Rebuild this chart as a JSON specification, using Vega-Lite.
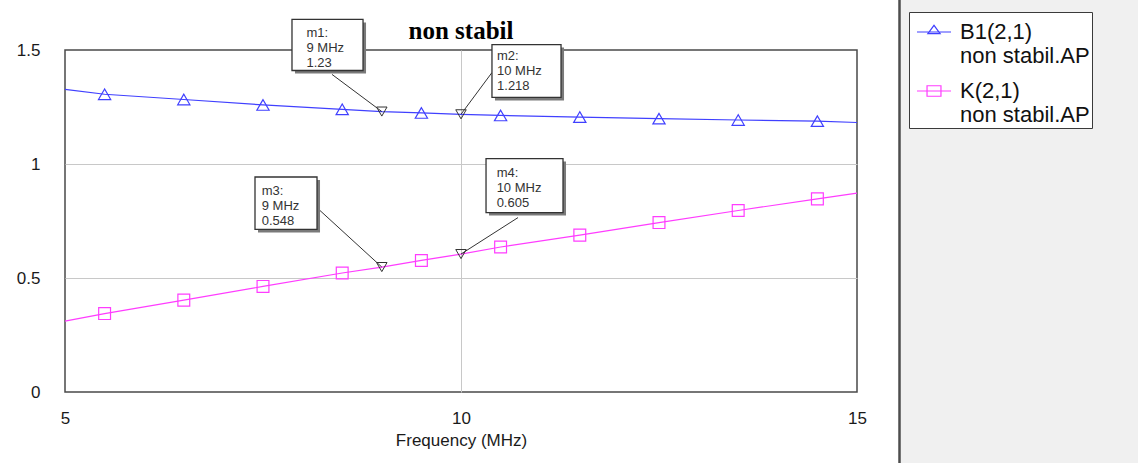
{
  "$schema": "https://vega.github.io/schema/vega-lite/v6.json",
  "width": 792,
  "height": 342,
  "padding": {"left": 65, "top": 50, "right": 281, "bottom": 71},
  "autosize": {"type": "none"},
  "background": "white",
  "view": {"stroke": "#4a4a4a", "strokeWidth": 1.5},
  "config": {"font": "Liberation Sans", "axis": {"labelFont": "Liberation Sans", "titleFont": "Liberation Sans"}},
  "title": {"text": "non stabil", "font": "Liberation Serif", "fontSize": 25, "fontWeight": "bold", "color": "#000000", "frame": "group", "anchor": "middle", "offset": -46},
  "datasets": {
    "curves": [
      {"series": "B1(2,1) non stabil.AP", "freq": 5, "val": 1.327},
      {"series": "B1(2,1) non stabil.AP", "freq": 5.5, "val": 1.306},
      {"series": "B1(2,1) non stabil.AP", "freq": 6.5, "val": 1.283},
      {"series": "B1(2,1) non stabil.AP", "freq": 7.5, "val": 1.259},
      {"series": "B1(2,1) non stabil.AP", "freq": 8.5, "val": 1.240},
      {"series": "B1(2,1) non stabil.AP", "freq": 9, "val": 1.230},
      {"series": "B1(2,1) non stabil.AP", "freq": 9.5, "val": 1.224},
      {"series": "B1(2,1) non stabil.AP", "freq": 10, "val": 1.218},
      {"series": "B1(2,1) non stabil.AP", "freq": 10.5, "val": 1.213},
      {"series": "B1(2,1) non stabil.AP", "freq": 11.5, "val": 1.206},
      {"series": "B1(2,1) non stabil.AP", "freq": 12.5, "val": 1.199},
      {"series": "B1(2,1) non stabil.AP", "freq": 13.5, "val": 1.193},
      {"series": "B1(2,1) non stabil.AP", "freq": 14.5, "val": 1.188},
      {"series": "B1(2,1) non stabil.AP", "freq": 15, "val": 1.182},
      {"series": "K(2,1) non stabil.AP", "freq": 5, "val": 0.311},
      {"series": "K(2,1) non stabil.AP", "freq": 5.5, "val": 0.344},
      {"series": "K(2,1) non stabil.AP", "freq": 6.5, "val": 0.403},
      {"series": "K(2,1) non stabil.AP", "freq": 7.5, "val": 0.463},
      {"series": "K(2,1) non stabil.AP", "freq": 8.5, "val": 0.522},
      {"series": "K(2,1) non stabil.AP", "freq": 9, "val": 0.548},
      {"series": "K(2,1) non stabil.AP", "freq": 9.5, "val": 0.577},
      {"series": "K(2,1) non stabil.AP", "freq": 10, "val": 0.605},
      {"series": "K(2,1) non stabil.AP", "freq": 10.5, "val": 0.636},
      {"series": "K(2,1) non stabil.AP", "freq": 11.5, "val": 0.688},
      {"series": "K(2,1) non stabil.AP", "freq": 12.5, "val": 0.743},
      {"series": "K(2,1) non stabil.AP", "freq": 13.5, "val": 0.796},
      {"series": "K(2,1) non stabil.AP", "freq": 14.5, "val": 0.847},
      {"series": "K(2,1) non stabil.AP", "freq": 15, "val": 0.872}
    ],
    "callouts": [
      {"name": "m1", "freq": 9, "val": 1.23, "bx1": 7.866, "bx2": 8.763, "by1": 1.634, "by2": 1.410, "lx": 8.371, "ly": 1.393, "tx": 8.049, "ty": 1.603},
      {"name": "m2", "freq": 10, "val": 1.218, "bx1": 10.391, "bx2": 11.263, "by1": 1.524, "by2": 1.292, "lx": 10.391, "ly": 1.401, "tx": 10.455, "ty": 1.498},
      {"name": "m3", "freq": 9, "val": 0.548, "bx1": 7.399, "bx2": 8.182, "by1": 0.943, "by2": 0.713, "lx": 8.207, "ly": 0.800, "tx": 7.484, "ty": 0.910},
      {"name": "m4", "freq": 10, "val": 0.605, "bx1": 10.316, "bx2": 11.288, "by1": 1.024, "by2": 0.787, "lx": 10.720, "ly": 0.765, "tx": 10.450, "ty": 0.985}
    ],
    "series": [
      {"series": "B1(2,1) non stabil.AP"},
      {"series": "K(2,1) non stabil.AP"}
    ]
  },
  "layer": [
    {
      "data": {"name": "curves"},
      "transform": [{"filter": "datum.series == 'B1(2,1) non stabil.AP'"}],
      "mark": {"type": "line", "strokeWidth": 1.2, "color": "#4040ff"},
      "encoding": {
        "x": {"field": "freq", "type": "quantitative", "title": "Frequency (MHz)", "scale": {"domain": [5, 15], "nice": false, "zero": false},
          "axis": {"values": [5, 10, 15], "format": "~g", "grid": true, "gridColor": {"condition": {"test": "datum.value > 5 && datum.value < 15", "value": "#c8c8c8"}, "value": "transparent"}, "domain": false, "ticks": false, "labelFontSize": 17, "labelColor": "#1a1a1a", "labelPadding": 18, "labelFlush": false, "titleFontSize": 17, "titleFontWeight": "normal", "titleColor": "#1a1a1a", "titlePadding": 6}},
        "y": {"field": "val", "type": "quantitative", "title": null, "scale": {"domain": [0, 1.5], "nice": false, "zero": false},
          "axis": {"values": [0, 0.5, 1, 1.5], "format": "~g", "grid": true, "gridColor": {"condition": {"test": "datum.value > 0 && datum.value < 1.5", "value": "#c8c8c8"}, "value": "transparent"}, "domain": false, "ticks": false, "labelFontSize": 17, "labelColor": "#1a1a1a", "labelPadding": 25}}
      }
    },
    {
      "data": {"name": "curves"},
      "transform": [{"filter": "datum.series == 'K(2,1) non stabil.AP'"}],
      "mark": {"type": "line", "strokeWidth": 1.2, "color": "#ff3cff"},
      "encoding": {
        "x": {"field": "freq", "type": "quantitative", "title": "Frequency (MHz)", "scale": {"domain": [5, 15], "nice": false, "zero": false}},
        "y": {"field": "val", "type": "quantitative", "title": null, "scale": {"domain": [0, 1.5], "nice": false, "zero": false}}
      }
    },
    {
      "data": {"name": "curves"},
      "transform": [{"filter": "datum.series == 'B1(2,1) non stabil.AP' && datum.freq % 1 == 0.5"}],
      "mark": {"type": "point", "shape": "triangle-up", "filled": false, "color": "#4040ff", "size": 150, "strokeWidth": 1.2, "opacity": 1},
      "encoding": {
        "x": {"field": "freq", "type": "quantitative", "title": "Frequency (MHz)", "scale": {"domain": [5, 15], "nice": false, "zero": false}},
        "y": {"field": "val", "type": "quantitative", "title": null, "scale": {"domain": [0, 1.5], "nice": false, "zero": false}}
      }
    },
    {
      "data": {"name": "curves"},
      "transform": [{"filter": "datum.series == 'K(2,1) non stabil.AP' && datum.freq % 1 == 0.5"}],
      "mark": {"type": "point", "shape": "square", "filled": false, "color": "#ff3cff", "size": 140, "strokeWidth": 1.2, "opacity": 1},
      "encoding": {
        "x": {"field": "freq", "type": "quantitative", "title": "Frequency (MHz)", "scale": {"domain": [5, 15], "nice": false, "zero": false}},
        "y": {"field": "val", "type": "quantitative", "title": null, "scale": {"domain": [0, 1.5], "nice": false, "zero": false}}
      }
    },
    {
      "data": {"name": "callouts"},
      "mark": {"type": "rule", "color": "#333333", "strokeWidth": 1, "clip": false},
      "encoding": {
        "x": {"field": "lx", "type": "quantitative", "title": "Frequency (MHz)", "scale": {"domain": [5, 15], "nice": false, "zero": false}},
        "y": {"field": "ly", "type": "quantitative", "title": null, "scale": {"domain": [0, 1.5], "nice": false, "zero": false}},
        "x2": {"field": "freq"},
        "y2": {"field": "val"}
      }
    },
    {
      "data": {"name": "callouts"},
      "mark": {"type": "point", "shape": "triangle-down", "filled": false, "color": "#333333", "size": 110, "strokeWidth": 1, "opacity": 1},
      "encoding": {
        "x": {"field": "freq", "type": "quantitative", "title": "Frequency (MHz)", "scale": {"domain": [5, 15], "nice": false, "zero": false}},
        "y": {"field": "val", "type": "quantitative", "title": null, "scale": {"domain": [0, 1.5], "nice": false, "zero": false}}
      }
    },
    {
      "data": {"name": "callouts"},
      "mark": {"type": "rect", "color": "#7a7a7a", "xOffset": 3, "x2Offset": 3, "yOffset": 3, "y2Offset": 3, "clip": false},
      "encoding": {
        "x": {"field": "bx1", "type": "quantitative", "title": "Frequency (MHz)", "scale": {"domain": [5, 15], "nice": false, "zero": false}},
        "x2": {"field": "bx2"},
        "y": {"field": "by1", "type": "quantitative", "title": null, "scale": {"domain": [0, 1.5], "nice": false, "zero": false}},
        "y2": {"field": "by2"}
      }
    },
    {
      "data": {"name": "callouts"},
      "mark": {"type": "rect", "fill": "#ffffff", "stroke": "#333333", "strokeWidth": 1.3, "clip": false},
      "encoding": {
        "x": {"field": "bx1", "type": "quantitative", "title": "Frequency (MHz)", "scale": {"domain": [5, 15], "nice": false, "zero": false}},
        "x2": {"field": "bx2"},
        "y": {"field": "by1", "type": "quantitative", "title": null, "scale": {"domain": [0, 1.5], "nice": false, "zero": false}},
        "y2": {"field": "by2"}
      }
    },
    {
      "data": {"name": "callouts"},
      "transform": [{"calculate": "datum.name + ':\\n' + datum.freq + ' MHz\\n' + datum.val", "as": "label"}],
      "mark": {"type": "text", "align": "left", "baseline": "top", "lineBreak": "\n", "fontSize": 13, "lineHeight": 15, "color": "#333333", "font": "Liberation Sans", "clip": false},
      "encoding": {
        "x": {"field": "tx", "type": "quantitative", "title": "Frequency (MHz)", "scale": {"domain": [5, 15], "nice": false, "zero": false}},
        "y": {"field": "ty", "type": "quantitative", "title": null, "scale": {"domain": [0, 1.5], "nice": false, "zero": false}},
        "text": {"field": "label", "type": "nominal"}
      }
    },
    {
      "data": {"name": "series"},
      "mark": {"type": "point", "filled": true, "opacity": 1},
      "encoding": {
        "x": {"field": "nx", "type": "quantitative", "title": "Frequency (MHz)", "scale": {"domain": [5, 15], "nice": false, "zero": false}},
        "y": {"field": "ny", "type": "quantitative", "title": null, "scale": {"domain": [0, 1.5], "nice": false, "zero": false}},
        "color": {"field": "panel", "type": "quantitative", "scale": {"type": "linear", "domain": [0, 1], "range": ["#f0f0f0", "#f0f0f0"]},
          "legend": {"type": "gradient", "orient": "none", "legendX": 834.5, "legendY": -52, "direction": "vertical", "title": null, "padding": 0, "gradientLength": 470, "gradientThickness": 250, "gradientStrokeColor": "#4d4d4d", "gradientStrokeWidth": 2.5, "labelExpr": "''", "labelFontSize": 1, "labelOffset": 0, "tickCount": 2}}
      }
    },
    {
      "data": {"name": "series"},
      "mark": {"type": "point", "filled": false, "opacity": 1},
      "encoding": {
        "x": {"field": "nx", "type": "quantitative", "title": "Frequency (MHz)", "scale": {"domain": [5, 15], "nice": false, "zero": false}},
        "y": {"field": "ny", "type": "quantitative", "title": null, "scale": {"domain": [0, 1.5], "nice": false, "zero": false}},
        "stroke": {"field": "series", "type": "nominal", "scale": {"domain": ["B1(2,1) non stabil.AP", "K(2,1) non stabil.AP"], "range": ["#4040ff", "#ff3cff"]},
          "legend": {"orient": "none", "legendX": 844, "legendY": -38, "title": null, "fillColor": "#ffffff", "strokeColor": "#3a3a3a", "padding": 2, "symbolOffset": 5, "labelFont": "Liberation Sans", "labelFontSize": 22, "labelColor": "#111111", "labelOffset": 8, "labelLimit": 400, "symbolSize": 1156, "symbolStrokeWidth": 1.2, "symbolFillColor": "transparent", "symbolOpacity": 1, "rowPadding": 6, "labelBaseline": "middle",
            "labelExpr": "[slice(datum.label, 0, indexof(datum.label, ' ')), slice(datum.label, indexof(datum.label, ' ') + 1) + '\\u00a0\\u00a0\\u00a0\\u00a0\\u00a0']"}},
        "shape": {"field": "series", "type": "nominal", "scale": {"domain": ["B1(2,1) non stabil.AP", "K(2,1) non stabil.AP"], "range": ["M-1,0H1M-0.36,0.1L0,-0.39L0.36,0.1Z", "M-1,0H1M-0.41,-0.31H0.41V0.31H-0.41Z"]}}
      }
    }
  ]
}
